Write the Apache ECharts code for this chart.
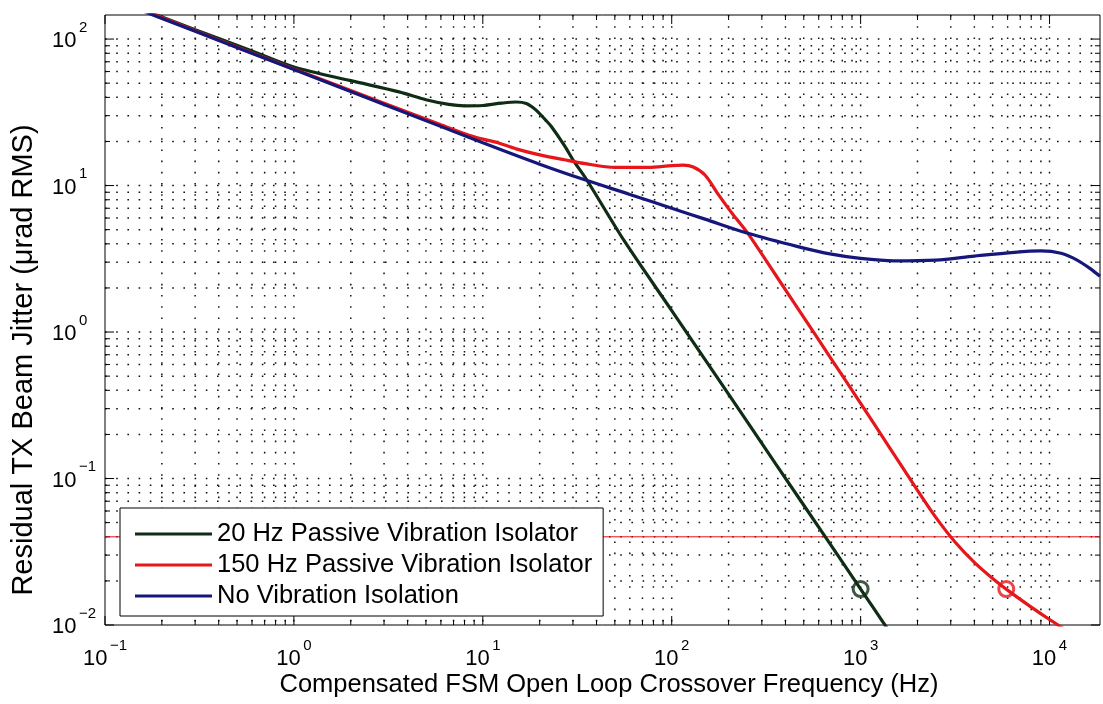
<!DOCTYPE html>
<html><head><meta charset="utf-8">
<script src="https://cdn.jsdelivr.net/npm/echarts@6/dist/echarts.min.js"></script>
<style>html,body{margin:0;padding:0;background:#fff}#c{width:1103px;height:704px}</style>
</head><body><div id="c"></div>
<script>
// ---------------- data ----------------
const seriesNames = ['20 Hz Passive Vibration Isolator', '150 Hz Passive Vibration Isolator', 'No Vibration Isolation'];

const greenF = [0.1, 0.3, 0.6, 1, 2, 3.6, 5, 6.6, 8, 10, 12.5, 15, 17, 19, 21.5, 23, 27, 30, 35.4, 56, 100, 178, 355, 708, 1000, 1413];
const greenV = [200, 116, 83, 64.5, 52, 43.6, 38.5, 35.8, 35, 35.2, 36.5, 37.2, 36.3, 33, 28, 25.4, 18.8, 15.0, 11.0, 4.2, 1.4, 0.47, 0.126, 0.034, 0.0176, 0.0091];

const redF = [0.1, 0.3, 1, 3, 6, 9, 12, 15, 20, 27, 35, 50, 75, 100, 115, 130, 150, 176, 210, 253, 350, 500, 700, 1000, 1400, 2000, 2500, 3160, 4000, 5000, 6300, 8000, 10000, 12600, 15000];
const redV = [200, 114, 62.5, 36.5, 26, 21.5, 19.6, 17.8, 16.2, 15, 14.1, 13.3, 13.3, 13.7, 13.8, 13.4, 11.8, 8.75, 6.4, 4.72, 2.52, 1.26, 0.653, 0.326, 0.168, 0.083, 0.0543, 0.0369, 0.0268, 0.0208, 0.0165, 0.01325, 0.0109, 0.009, 0.0078];

const blueF = [0.1, 0.3, 1, 3, 10, 20, 35, 60, 100, 150, 253, 465, 700, 1000, 1500, 2500, 4000, 6500, 9000, 11500, 14000, 16500, 18500];
const blueV = [196, 113, 62, 35.8, 19.6, 14.0, 10.9, 8.7, 7.0, 5.9, 4.72, 3.83, 3.4, 3.18, 3.06, 3.1, 3.3, 3.5, 3.58, 3.45, 3.1, 2.7, 2.4];

const refLineF = [0.1, 18500];
const refLineV = [0.04, 0.04];

const markerF = [1000, 5900];
const markerV = [0.0176, 0.0176];

const xTickExps = [-1, 0, 1, 2, 3, 4];
const yTickExps = [-2, -1, 0, 1, 2];

const xTitle = 'Compensated FSM Open Loop Crossover Frequency (Hz)';
const yTitle = 'Residual TX Beam Jitter (\u03bcrad RMS)';

// ---------------- layout / style ----------------
const xMin = 0.1, xMax = 18500, yMin = 0.01, yMax = 146;
const FONT = "'Liberation Sans', Arial, Helvetica, sans-serif";
const C_GREEN = '#0f2d14', C_RED = '#e6161b', C_BLUE = '#16177a';

const zip = (a, b) => a.map((v, i) => [v, b[i]]);

function gridValues(exps, lo, hi) {
  const out = [];
  for (let e = exps[0] - 1; e <= exps[exps.length - 1] + 1; e++) {
    for (let m = 1; m <= 9; m++) {
      const v = m * Math.pow(10, e);
      if (v >= lo * 0.9999 && v <= hi * 1.0001) out.push(v);
    }
  }
  return out;
}
const gridX = gridValues(xTickExps, xMin, xMax);
const gridY = gridValues(yTickExps, yMin, yMax);

function isMajor(v) {
  const e = Math.log10(v);
  return Math.abs(e - Math.round(e)) < 1e-6;
}

function labelFmt(val) {
  const e = Math.log10(val);
  const r = Math.round(e);
  if (Math.abs(e - r) > 1e-6) return '';
  return '{b|10}{s|' + (r < 0 ? '\u2212' + (-r) : String(r)) + '}';
}
const rich = {
  b: { fontSize: 22, fontFamily: FONT, color: '#000', lineHeight: 22 },
  s: { fontSize: 15, fontFamily: FONT, color: '#000', lineHeight: 15, padding: [0, 0, 27, 2.5] }
};

const dotStyle = { stroke: '#111', lineWidth: 1.5, lineDash: [1.6, 9.6] };

function renderGridX(params, api) {
  const v = api.value(0);
  const cs = params.coordSys;
  const x = api.coord([v, yMin])[0];
  const top = cs.y, bot = cs.y + cs.height;
  const len = isMajor(v) ? 9 : 5;
  const ch = [];
  if (x > cs.x + 1 && x < cs.x + cs.width - 1) {
    ch.push({ type: 'line', shape: { x1: x, y1: top, x2: x, y2: bot }, style: dotStyle });
  }
  ch.push({ type: 'line', shape: { x1: x, y1: bot, x2: x, y2: bot - len }, style: { stroke: '#000', lineWidth: 1 } });
  ch.push({ type: 'line', shape: { x1: x, y1: top, x2: x, y2: top + len }, style: { stroke: '#000', lineWidth: 1 } });
  return { type: 'group', children: ch };
}
function renderGridY(params, api) {
  const v = api.value(1);
  const cs = params.coordSys;
  const y = api.coord([xMin, v])[1];
  const l = cs.x, r = cs.x + cs.width;
  const len = isMajor(v) ? 9 : 5;
  const ch = [];
  if (y > cs.y + 1 && y < cs.y + cs.height - 1) {
    ch.push({ type: 'line', shape: { x1: l, y1: y, x2: r, y2: y }, style: dotStyle });
  }
  ch.push({ type: 'line', shape: { x1: l, y1: y, x2: l + len, y2: y }, style: { stroke: '#000', lineWidth: 1 } });
  ch.push({ type: 'line', shape: { x1: r, y1: y, x2: r - len, y2: y }, style: { stroke: '#000', lineWidth: 1 } });
  return { type: 'group', children: ch };
}

const lineBase = { type: 'line', showSymbol: false, symbol: 'none', smooth: 0.3, z: 3, silent: true };

const option = {
  animation: false,
  backgroundColor: '#fff',
  grid: { left: 105, right: -1, top: 15, bottom: 79, show: true, borderColor: '#000', borderWidth: 1, backgroundColor: 'transparent' },
  xAxis: {
    type: 'log', logBase: 10, min: xMin, max: xMax, splitNumber: 5,
    axisLine: { show: false }, axisTick: { show: false }, splitLine: { show: false }, minorTick: { show: false },
    axisLabel: { margin: 23, formatter: labelFmt, rich: rich }
  },
  yAxis: {
    type: 'log', logBase: 10, min: yMin, max: yMax, splitNumber: 4,
    axisLine: { show: false }, axisTick: { show: false }, splitLine: { show: false }, minorTick: { show: false },
    axisLabel: { margin: 53, align: 'left', formatter: labelFmt, rich: rich, padding: [4, 0, 0, 0] }
  },
  legend: {
    data: seriesNames, orient: 'vertical', left: 120, top: 508,
    icon: 'rect', itemWidth: 77, itemHeight: 3, itemGap: 5,
    padding: [13, 11, 7, 15], backgroundColor: '#fff', borderColor: '#000', borderWidth: 1, borderRadius: 0,
    textStyle: { fontSize: 25.5, fontFamily: FONT, color: '#000', lineHeight: 26 },
    selectedMode: false
  },
  graphic: [
    { type: 'text', x: 24, y: 360, rotation: Math.PI / 2,
      style: { text: yTitle, font: '29px ' + FONT, fill: '#000', align: 'center', verticalAlign: 'middle' } },
    { type: 'text', x: 609, y: 685,
      style: { text: xTitle, font: '25.5px ' + FONT, fill: '#000', align: 'center', verticalAlign: 'middle' } }
  ],
  series: [
    { type: 'custom', name: 'gridX', renderItem: renderGridX, data: gridX.map(v => [v, yMin]), silent: true, z: 1, encode: { x: 0, y: 1 } },
    { type: 'custom', name: 'gridY', renderItem: renderGridY, data: gridY.map(v => [xMin, v]), silent: true, z: 1, encode: { x: 0, y: 1 } },
    { type: 'line', name: 'ref', data: zip(refLineF, refLineV), showSymbol: false, symbol: 'none', lineStyle: { color: C_RED, width: 1 }, itemStyle: { color: C_RED }, z: 2, silent: true },
    Object.assign({}, lineBase, { name: seriesNames[0], data: zip(greenF, greenV), lineStyle: { color: C_GREEN, width: 3.2 }, itemStyle: { color: C_GREEN } }),
    Object.assign({}, lineBase, { name: seriesNames[1], data: zip(redF, redV), lineStyle: { color: C_RED, width: 3.2 }, itemStyle: { color: C_RED } }),
    Object.assign({}, lineBase, { name: seriesNames[2], data: zip(blueF, blueV), lineStyle: { color: C_BLUE, width: 3.2 }, itemStyle: { color: C_BLUE } }),
    { type: 'scatter', name: 'markers', symbol: 'circle', symbolSize: 15, z: 4, silent: true,
      data: [
        { value: [markerF[0], markerV[0]], itemStyle: { color: 'transparent', borderColor: C_GREEN, borderWidth: 3 } },
        { value: [markerF[1], markerV[1]], itemStyle: { color: 'transparent', borderColor: C_RED, borderWidth: 3 } }
      ] }
  ]
};

const chart = echarts.init(document.getElementById('c'), null, { renderer: 'canvas' });
chart.setOption(option);
</script>
</body></html>
